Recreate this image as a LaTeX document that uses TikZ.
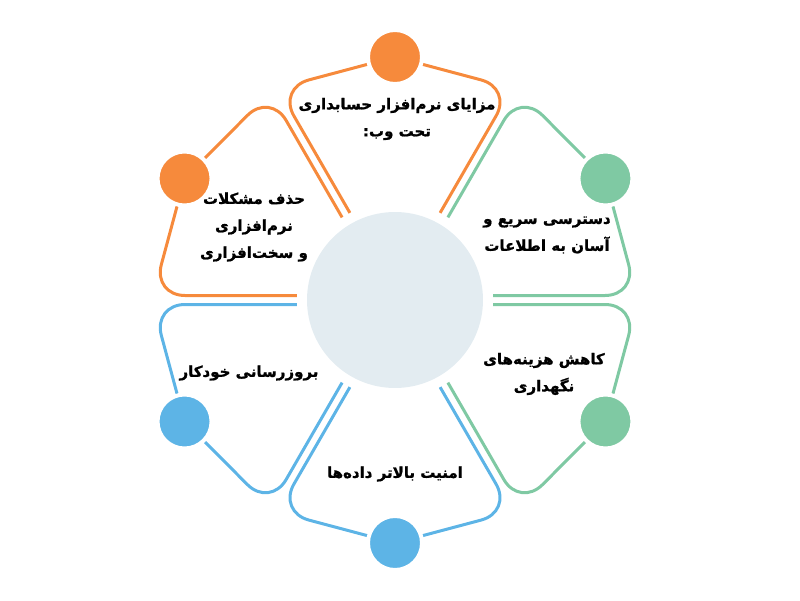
\documentclass[tikz,border=0pt]{standalone}
\usepackage{fontspec}
\newfontfamily\farsifont[Script=Arabic, BoldFeatures={FakeBold=1.2}]{DejaVu Sans}
\TeXXeTstate=1
\usetikzlibrary{calc}

\definecolor{petalorange}{RGB}{246,138,60}
\definecolor{petalgreen}{RGB}{127,201,163}
\definecolor{petalblue}{RGB}{93,180,230}
\definecolor{hubgray}{RGB}{227,236,241}

\newcommand{\fatext}[1]{\beginR#1\endR}

\begin{document}
\begin{tikzpicture}[x=1pt, y=1pt]
		\tikzset{
			petal/.style={line width=3pt, rounded corners=32pt},
			dot/.style={draw=white, circle, line width=4pt, minimum size=54pt, inner sep=0pt},
			hub/.style={circle, fill=hubgray, minimum size=176pt, inner sep=0pt},
			txt/.style={font=\farsifont\bfseries\fontsize{15}{27}\selectfont, align=center, text=black}
		}
		\useasboundingbox (-395,-300) rectangle (405,300);
		
		% Petals
		\draw[petal, petalorange] ($(120:98)+(30:4.5)$) -- ($(120:242)+(30:4.5)$) -- (90:243);
		\draw[petal, petalorange] (90:243) -- ($(60:242)+(150:4.5)$) -- ($(60:98)+(150:4.5)$);
		
		\draw[petal, petalgreen] ($(60:98)+(-30:4.5)$) -- ($(60:242)+(-30:4.5)$) -- (30:243);
		\draw[petal, petalgreen] (30:243) -- ($(0:242)+(90:4.5)$) -- ($(0:98)+(90:4.5)$);
		
		\draw[petal, petalgreen] ($(0:98)+(-90:4.5)$) -- ($(0:242)+(-90:4.5)$) -- (-30:243);
		\draw[petal, petalgreen] (-30:243) -- ($(-60:242)+(30:4.5)$) -- ($(-60:98)+(30:4.5)$);
		
		\draw[petal, petalblue] ($(-60:98)+(-150:4.5)$) -- ($(-60:242)+(-150:4.5)$) -- (-90:243);
		\draw[petal, petalblue] (-90:243) -- ($(-120:242)+(-30:4.5)$) -- ($(-120:98)+(-30:4.5)$);
		
		\draw[petal, petalblue] ($(-120:98)+(150:4.5)$) -- ($(-120:242)+(150:4.5)$) -- (-150:243);
		\draw[petal, petalblue] (-150:243) -- ($(180:242)+(-90:4.5)$) -- ($(180:98)+(-90:4.5)$);
		
		\draw[petal, petalorange] ($(180:98)+(90:4.5)$) -- ($(180:242)+(90:4.5)$) -- (150:243);
		\draw[petal, petalorange] (150:243) -- ($(120:242)+(-150:4.5)$) -- ($(120:98)+(-150:4.5)$);
		
		% Tip dots
		\node[dot, fill=petalorange] (dottop) at (90:243) {};
		\node[dot, fill=petalgreen] (dotupright) at (30:243) {};
		\node[dot, fill=petalgreen] (dotdownright) at (-30:243) {};
		\node[dot, fill=petalblue] (dotbottom) at (-90:243) {};
		\node[dot, fill=petalblue] (dotdownleft) at (-150:243) {};
		\node[dot, fill=petalorange] (dotupleft) at (150:243) {};
		
		% Centre
		\node[hub] (hub) at (0,0) {};
		
		% Texts
		\node[txt] (txttop) at (2,181) {\fatext{مزایای نرم^^^^200cافزار حسابداری}\\ \fatext{تحت وب:}};
		\node[txt] (txtupright) at (152,65) {\fatext{دسترسی سریع و}\\ \fatext{آسان به اطلاعات}};
		\node[txt] (txtdownright) at (149,-74) {\fatext{کاهش هزینه^^^^200cهای}\\ \fatext{نگهداری}};
		\node[txt] (txtbottom) at (0,-174) {\fatext{امنیت بالاتر داده^^^^200cها}};
		\node[txt] (txtdownleft) at (-146,-73) {\fatext{بروزرسانی خودکار}};
		\node[txt] (txtupleft) at (-141,73) {\fatext{حذف مشکلات}\\ \fatext{نرم^^^^200cافزاری}\\ \fatext{و سخت^^^^200cافزاری}};
		
	\end{tikzpicture}
\end{document}
